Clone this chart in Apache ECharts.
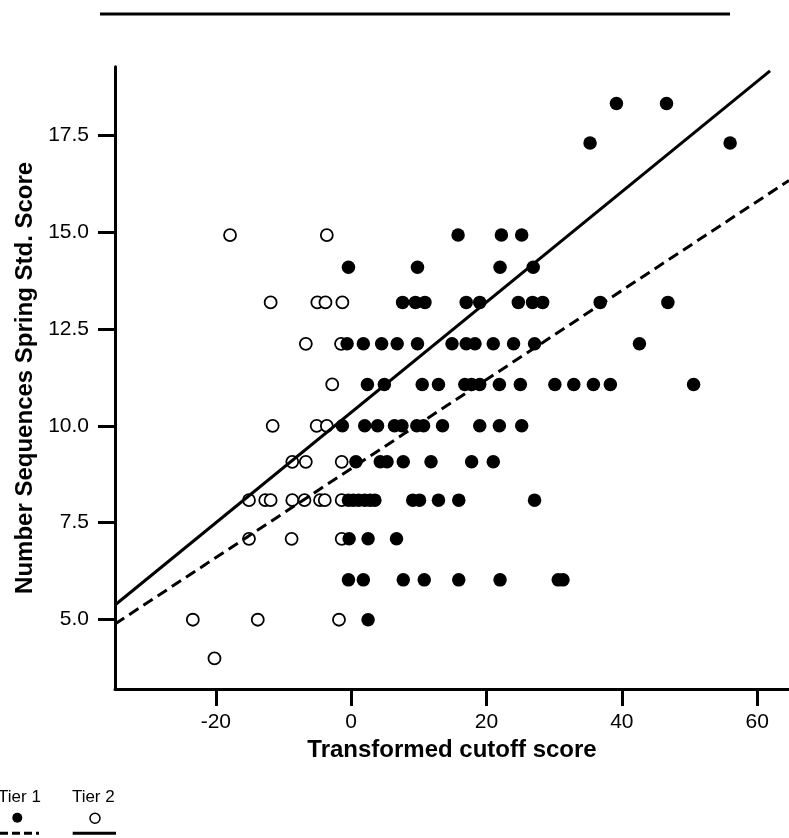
<!DOCTYPE html>
<html><head><meta charset="utf-8">
<script src="https://cdn.jsdelivr.net/npm/echarts@6/dist/echarts.min.js"></script>
<style>html,body{margin:0;padding:0;background:#fff}#c{width:789px;height:838px}</style>
</head><body><div id="c"></div>
<script>
// Tier 1 (filled dots): x = transformed cutoff score, y = std. score
const tier1X = [
  39.2, 46.6,
  35.3, 56.0,
  15.8, 22.2, 25.2,
  -0.4, 9.8, 22.0, 26.9,
  7.6, 9.5, 10.9, 17.0, 19.0, 24.7, 26.8, 28.3, 36.8, 46.8,
  -0.6, 1.8, 4.5, 6.8, 9.8, 14.9, 17.0, 18.3, 21.0, 24.0, 27.1, 42.6,
  2.4, 4.9, 10.5, 12.9, 16.8, 17.8, 19.0, 21.9, 25.0, 30.1, 32.9, 35.8, 38.3, 50.6,
  -1.3, 2.0, 3.9, 6.4, 7.5, 9.7, 10.7, 13.5, 19.0, 21.9, 25.2,
  0.7, 4.3, 5.3, 7.7, 11.8, 17.8, 21.0,
  -0.4, 0.3, 1.1, 2.0, 2.8, 3.5, 9.1, 10.1, 12.9, 15.9, 27.1,
  -0.3, 2.5, 6.7,
  -0.4, 1.8, 7.7, 10.8, 15.9, 22.0, 30.6, 31.3,
  2.5
];
const tier1Y = [
  18.33, 18.33,
  17.31, 17.31,
  14.93, 14.93, 14.93,
  14.1, 14.1, 14.1, 14.1,
  13.19, 13.19, 13.19, 13.19, 13.19, 13.19, 13.19, 13.19, 13.19, 13.19,
  12.12, 12.12, 12.12, 12.12, 12.12, 12.12, 12.12, 12.12, 12.12, 12.12, 12.12, 12.12,
  11.07, 11.07, 11.07, 11.07, 11.07, 11.07, 11.07, 11.07, 11.07, 11.07, 11.07, 11.07, 11.07, 11.07,
  10.0, 10.0, 10.0, 10.0, 10.0, 10.0, 10.0, 10.0, 10.0, 10.0, 10.0,
  9.07, 9.07, 9.07, 9.07, 9.07, 9.07, 9.07,
  8.08, 8.08, 8.08, 8.08, 8.08, 8.08, 8.08, 8.08, 8.08, 8.08, 8.08,
  7.08, 7.08, 7.08,
  6.02, 6.02, 6.02, 6.02, 6.02, 6.02, 6.02, 6.02,
  4.99
];
// Tier 2 (open circles)
const tier2X = [
  -17.9, -3.6,
  -11.9, -5.0, -3.8, -1.3,
  -6.7, -1.5,
  -2.8,
  -11.6, -5.1, -3.6,
  -8.7, -6.7, -1.4,
  -15.1, -12.7, -11.9, -8.7, -6.9, -4.6, -3.9, -1.4,
  -15.1, -8.8, -1.4,
  -23.4, -13.8, -1.8,
  -20.2
];
const tier2Y = [
  14.93, 14.93,
  13.19, 13.19, 13.19, 13.19,
  12.12, 12.12,
  11.07,
  10.0, 10.0, 10.0,
  9.07, 9.07, 9.07,
  8.08, 8.08, 8.08, 8.08, 8.08, 8.08, 8.08, 8.08,
  7.08, 7.08, 7.08,
  4.99, 4.99, 4.99,
  3.99
];
// Fitted lines (end points)
const tier1LineX = [-34.9, 64.7];
const tier1LineY = [4.88, 16.34];
const tier2LineX = [-34.9, 61.9];
const tier2LineY = [5.37, 19.17];

const xTicks = [-20, 0, 20, 40, 60];
const yTicks = [5, 7.5, 10, 12.5, 15, 17.5];
const xTitle = 'Transformed cutoff score';
const yTitle = 'Number Sequences Spring Std. Score';
const legendNames = ['Tier 1', 'Tier 2'];

const zip = (a, b) => a.map((v, i) => [v, b[i]]);
const FONT = '"Liberation Sans", Arial, Helvetica, sans-serif';

const chart = echarts.init(document.getElementById('c'), null, {renderer: 'canvas'});
chart.setOption({
  animation: false,
  backgroundColor: '#fff',
  grid: {left: 115, right: 0, top: 66.7, bottom: 149, containLabel: false, outerBoundsMode: 'none'},
  xAxis: {
    type: 'value', min: -34.9, max: 64.7,
    name: xTitle, nameLocation: 'middle', nameGap: 47,
    nameTextStyle: {fontSize: 24, fontWeight: 'bold', color: '#000', fontFamily: FONT},
    axisLine: {show: true, onZero: false, lineStyle: {color: '#000', width: 3}},
    axisTick: {show: true, customValues: xTicks, length: 17, lineStyle: {color: '#000', width: 3}},
    axisLabel: {customValues: xTicks, fontSize: 21, color: '#000', margin: 23, fontFamily: FONT},
    splitLine: {show: false}
  },
  yAxis: {
    type: 'value', min: 3.2, max: 19.28,
    name: yTitle, nameLocation: 'middle', nameGap: 70, nameRotate: 90,
    nameTextStyle: {fontSize: 24, fontWeight: 'bold', color: '#000', fontFamily: FONT},
    axisLine: {show: true, onZero: false, lineStyle: {color: '#000', width: 3}},
    axisTick: {show: true, customValues: yTicks, length: 17, lineStyle: {color: '#000', width: 3}},
    axisLabel: {customValues: yTicks, fontSize: 21, color: '#000', margin: 26, fontFamily: FONT,
      formatter: v => Number(v).toFixed(1)},
    splitLine: {show: false}
  },
  series: [
    {name: legendNames[1], type: 'scatter', data: zip(tier2X, tier2Y), symbol: 'circle', symbolSize: 12,
     itemStyle: {color: '#fff', borderColor: '#000', borderWidth: 1.8, opacity: 1}, z: 2},
    {name: legendNames[0], type: 'scatter', data: zip(tier1X, tier1Y), symbol: 'circle', symbolSize: 13.5,
     itemStyle: {color: '#000', opacity: 1}, z: 3},
    {name: legendNames[0] + ' fit', type: 'line', data: zip(tier1LineX, tier1LineY), symbol: 'none',
     lineStyle: {color: '#000', width: 3, type: [11, 6]}, z: 4},
    {name: legendNames[1] + ' fit', type: 'line', data: zip(tier2LineX, tier2LineY), symbol: 'none',
     lineStyle: {color: '#000', width: 3}, z: 4}
  ],
  graphic: [
    {type: 'line', shape: {x1: 100, y1: 14, x2: 730, y2: 14}, style: {stroke: '#000', lineWidth: 3}},
    {type: 'text', x: 19.5, y: 797, style: {text: legendNames[0], font: '17px ' + FONT, fill: '#000', align: 'center', verticalAlign: 'middle'}},
    {type: 'circle', shape: {cx: 17.3, cy: 817.7, r: 5}, style: {fill: '#000'}},
    {type: 'line', shape: {x1: 0, y1: 833.3, x2: 39, y2: 833.3}, style: {stroke: '#000', lineWidth: 3, lineDash: [8, 4]}},
    {type: 'text', x: 93.3, y: 797, style: {text: legendNames[1], font: '17px ' + FONT, fill: '#000', align: 'center', verticalAlign: 'middle'}},
    {type: 'circle', shape: {cx: 95, cy: 818.3, r: 5}, style: {fill: '#fff', stroke: '#000', lineWidth: 1.5}},
    {type: 'line', shape: {x1: 72.7, y1: 833.3, x2: 116, y2: 833.3}, style: {stroke: '#000', lineWidth: 3}}
  ]
});
</script>
</body></html>
